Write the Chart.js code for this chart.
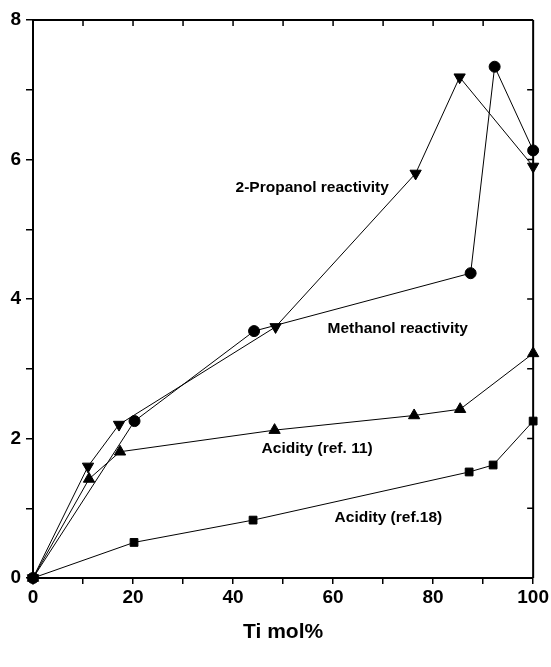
<!DOCTYPE html>
<html>
<head>
<meta charset="utf-8">
<script src="https://cdn.jsdelivr.net/npm/chart.js@4/dist/chart.umd.min.js"></script>
<style>
  html, body { margin: 0; padding: 0; background: #fff; }
  canvas { display: block; }
</style>
</head>
<body>
<canvas id="c" width="551" height="667"></canvas>
<script>
// ---- data ----
const methanolX = [0, 20.3, 44.2, 87.5, 92.3, 100];
const methanolY = [0, 2.25, 3.54, 4.37, 7.33, 6.13];

const propanolX = [0, 11.0, 17.2, 48.5, 76.5, 85.3, 100];
const propanolY = [0, 1.60, 2.20, 3.60, 5.80, 7.18, 5.90];

const acid11X = [0, 11.2, 17.4, 48.3, 76.2, 85.4, 100];
const acid11Y = [0, 1.42, 1.81, 2.12, 2.33, 2.42, 3.22];

const acid18X = [0, 20.2, 44.0, 87.2, 92.0, 100];
const acid18Y = [0, 0.51, 0.83, 1.52, 1.62, 2.25];

const xTickLabels = [0, 20, 40, 60, 80, 100];
const yTickLabels = [0, 2, 4, 6, 8];

const seriesLabels = ['Methanol reactivity', '2-Propanol reactivity', 'Acidity (ref. 11)', 'Acidity (ref.18)'];
// annotation anchor positions (data units): [x, y]
const annotationX = [58.9, 40.5, 45.7, 60.3];
const annotationY = [3.58, 5.60, 1.86, 0.86];

function pts(xs, ys) { return xs.map((x, i) => ({ x: x, y: ys[i] })); }

const FONT = '"Liberation Sans", Arial, Helvetica, sans-serif';

const frameAndLabels = {
  id: 'frameAndLabels',
  afterDatasetsDraw(chart) {
    const ctx = chart.ctx;
    const xs = chart.scales.x, ys = chart.scales.y;
    const a = chart.chartArea;
    ctx.save();
    ctx.strokeStyle = '#000';
    ctx.lineWidth = 2;
    ctx.beginPath();
    ctx.moveTo(a.left, a.top); ctx.lineTo(a.right, a.top);
    ctx.moveTo(a.right, a.top); ctx.lineTo(a.right, a.bottom);
    ctx.stroke();
    ctx.lineWidth = 1.5;
    ctx.beginPath();
    for (let v = 10; v < 100; v += 10) {
      const px = xs.getPixelForValue(v);
      ctx.moveTo(px, a.top); ctx.lineTo(px, a.top + 6);
    }
    for (let v = 1; v < 8; v += 1) {
      const py = ys.getPixelForValue(v);
      ctx.moveTo(a.right, py); ctx.lineTo(a.right - 6, py);
    }
    ctx.stroke();
    ctx.fillStyle = '#000';
    ctx.font = 'bold 15.5px ' + FONT;
    ctx.textAlign = 'left';
    ctx.textBaseline = 'middle';
    seriesLabels.forEach((t, i) => {
      ctx.fillText(t, xs.getPixelForValue(annotationX[i]), ys.getPixelForValue(annotationY[i]));
    });
    ctx.restore();
  }
};

const common = {
  showLine: true,
  borderColor: '#000',
  borderWidth: 1,
  backgroundColor: '#000',
  pointBorderColor: '#000',
  pointBackgroundColor: '#000',
  clip: false,
  tension: 0
};

new Chart(document.getElementById('c'), {
  type: 'scatter',
  data: {
    datasets: [
      Object.assign({ label: seriesLabels[0], data: pts(methanolX, methanolY), pointStyle: 'circle', pointRadius: 5.5 }, common),
      Object.assign({ label: seriesLabels[1], data: pts(propanolX, propanolY), pointStyle: 'triangle', pointRotation: 180, pointRadius: 6.5 }, common),
      Object.assign({ label: seriesLabels[2], data: pts(acid11X, acid11Y), pointStyle: 'triangle', pointRadius: 6.5 }, common),
      Object.assign({ label: seriesLabels[3], data: pts(acid18X, acid18Y), pointStyle: 'rect', pointRadius: 5.5 }, common)
    ]
  },
  options: {
    responsive: false,
    animation: false,
    layout: { padding: { top: 20, right: 17, left: 0, bottom: 0 } },
    plugins: { legend: { display: false }, tooltip: { enabled: false } },
    scales: {
      x: {
        type: 'linear', min: 0, max: 100, position: 'bottom',
        afterFit(s) { s.height = 89; },
        ticks: {
          stepSize: 10, color: '#000', padding: 2, maxRotation: 0, autoSkip: false,
          font: { family: FONT, weight: 'bold', size: 19 },
          callback: v => xTickLabels.includes(v) ? String(v) : ''
        },
        grid: { drawOnChartArea: false, drawTicks: true, tickLength: 6, color: '#000', lineWidth: 1.5 },
        border: { display: true, color: '#000', width: 2 },
        title: { display: true, text: 'Ti mol%', color: '#000', font: { family: FONT, weight: 'bold', size: 21 }, padding: { top: 0, bottom: 22 } }
      },
      y: {
        type: 'linear', min: 0, max: 8,
        afterFit(s) { s.width = 33; },
        ticks: {
          stepSize: 1, color: '#000', padding: 5, autoSkip: false,
          font: { family: FONT, weight: 'bold', size: 19 },
          callback: v => yTickLabels.includes(v) ? String(v) : ''
        },
        grid: { drawOnChartArea: false, drawTicks: true, tickLength: 7, color: '#000', lineWidth: 1.5 },
        border: { display: true, color: '#000', width: 2 }
      }
    }
  },
  plugins: [frameAndLabels]
});
</script>
</body>
</html>
